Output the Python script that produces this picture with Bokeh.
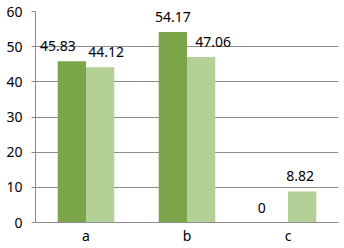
from bokeh.plotting import figure
from bokeh.models import ColumnDataSource, FactorRange, FixedTicker, LabelSet
from bokeh.core.properties import value
from bokeh.transform import dodge
from bokeh.embed import file_html
from bokeh.resources import INLINE

categories = ["a", "b", "c"]
series1 = [45.83, 54.17, 0]
series2 = [44.12, 47.06, 8.82]
y_ticks = [0, 10, 20, 30, 40, 50, 60]

# label nudges (style only, screen px)
nudge1 = [-14, 0, -12]
nudge2 = [6, 12, -2]

dark = "#7aa649"
light = "#b3d197"
grid = "#8c8c8c"
font = "Noto Sans"

src = ColumnDataSource(dict(
    cat=categories, s1=series1, s2=series2,
    t1=[f"{v:g}" for v in series1], t2=[f"{v:g}" for v in series2],
    n1=nudge1, n2=nudge2,
))

p = figure(x_range=FactorRange(*categories, range_padding=0), y_range=(0, 60),
           width=344, height=248, output_backend="svg", toolbar_location=None,
           min_border_left=35, min_border_right=6, min_border_top=11, min_border_bottom=26)
p.outline_line_color = None

p.vbar(x=dodge("cat", -0.14, range=p.x_range), top="s1", width=0.28, source=src,
       fill_color=dark, line_color=None)
p.vbar(x=dodge("cat", 0.14, range=p.x_range), top="s2", width=0.28, source=src,
       fill_color=light, line_color=None)

for xo, col, ycol, nud in ((-0.14, "t1", "s1", "n1"), (0.14, "t2", "s2", "n2")):
    ls = LabelSet(x=dodge("cat", xo, range=p.x_range), y=ycol,
                  text=col, source=src, x_offset=nud, y_offset=10,
                  text_align="center", text_baseline="alphabetic",
                  text_font=value(font), text_font_size=value("14px"),
                  text_color="#000000")
    p.add_layout(ls)

p.yaxis.ticker = FixedTicker(ticks=y_ticks)
p.yaxis.minor_tick_line_color = None
p.yaxis.major_tick_in = 0
p.yaxis.major_tick_out = 4
p.yaxis.major_tick_line_color = grid
p.yaxis.axis_line_color = grid
p.yaxis.major_label_standoff = 9
p.yaxis.major_label_text_font = font
p.yaxis.major_label_text_font_size = "14px"
p.yaxis.major_label_text_color = "#000000"

p.xaxis.axis_line_color = grid
p.xaxis.major_tick_line_color = None
p.xaxis.minor_tick_line_color = None
p.xaxis.major_tick_in = 0
p.xaxis.major_tick_out = 0
p.xaxis.major_label_standoff = 3
p.xaxis.major_label_text_font = font
p.xaxis.major_label_text_font_size = "14px"
p.xaxis.major_label_text_color = "#000000"

p.xgrid.grid_line_color = None
p.ygrid.grid_line_color = grid
p.ygrid.grid_line_width = 1

open("out.html", "w").write(file_html(p, INLINE))
